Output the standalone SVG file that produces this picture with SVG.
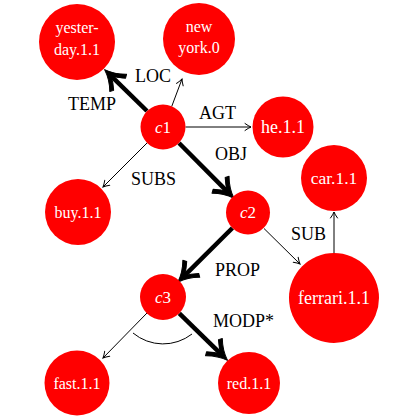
<svg xmlns="http://www.w3.org/2000/svg" width="420" height="420" viewBox="0 0 420 420">
<style>
.node{fill:#ff0000;stroke:none}
.nt{fill:#ffffff;font-family:'Liberation Serif','Times New Roman',serif;text-anchor:middle}
.it{font-style:italic}
.lbl{fill:#000;font-family:'Liberation Serif','Times New Roman',serif;font-size:18px}
.thin{stroke:#000;stroke-width:1;fill:none;marker-end:url(#thinHead)}
.thick{stroke:#000;stroke-width:4.5;fill:none;marker-end:url(#thickHead)}
</style>
<defs>
<marker id="thinHead" markerUnits="userSpaceOnUse" orient="auto" refX="0" refY="0" markerWidth="10" markerHeight="10" overflow="visible">
<path d="M-6,-3.5 Q-2.5,-1 0,0 Q-2.5,1 -6,3.5" fill="none" stroke="#000" stroke-width="1" stroke-linecap="round"/>
</marker>
<marker id="thickHead" markerUnits="userSpaceOnUse" orient="auto" refX="0" refY="0" markerWidth="20" markerHeight="20" overflow="visible">
<path d="M8,0 C2,-2 -5,-6 -11,-12 L-13,-8.5 C-7,-3 -3,-1 -1,0 C-3,1 -7,3 -13,8.5 L-11,12 C-5,6 2,2 8,0 Z" fill="#000" stroke="#000" stroke-width="1" stroke-linejoin="round"/>
</marker>
</defs>
<g id="connectors">
<line class="thick" x1="147" y1="111" x2="110.3" y2="75.2"/>
<line class="thick" x1="179" y1="143" x2="228.3" y2="192.6"/>
<line class="thick" x1="232.4" y1="228" x2="183.5" y2="276.6"/>
<line class="thick" x1="179.3" y1="313.3" x2="221.8" y2="354.8"/>
<line class="thin" x1="171.7" y1="106.5" x2="182" y2="79"/>
<line class="thin" x1="185.5" y1="127" x2="251" y2="127"/>
<line class="thin" x1="147" y1="143" x2="103" y2="187"/>
<line class="thin" x1="264" y1="228.5" x2="300" y2="264"/>
<line class="thin" x1="334" y1="253" x2="334" y2="212"/>
<line class="thin" x1="147" y1="313" x2="103" y2="358"/>
<path d="M133,333 A47,47 0 0 0 192,334" fill="none" stroke="#000" stroke-width="1"/>
<text class="lbl" x="68" y="110">TEMP</text>
<text class="lbl" x="135" y="82">LOC</text>
<text class="lbl" x="199" y="119">AGT</text>
<text class="lbl" x="215" y="160">OBJ</text>
<text class="lbl" x="131" y="185">SUBS</text>
<text class="lbl" x="291" y="240">SUB</text>
<text class="lbl" x="215" y="276">PROP</text>
<text class="lbl" x="213" y="327">MODP*</text>
</g>
<g id="yesterday">
<circle class="node" cx="77" cy="42" r="38"/>
<text class="nt" x="77" y="33" font-size="16">yester-</text>
<text class="nt" x="77" y="55" font-size="16">day.1.1</text>
</g>
<g id="newyork">
<circle class="node" cx="199" cy="39" r="36"/>
<text class="nt" x="199" y="32" font-size="16">new</text>
<text class="nt" x="199" y="53" font-size="16">york.0</text>
</g>
<g id="c1">
<circle class="node" cx="163" cy="127" r="22.5"/>
<text class="nt it" x="163" y="133" font-size="17">c<tspan font-style="normal">1</tspan></text>
</g>
<g id="he">
<circle class="node" cx="283" cy="127" r="30.5"/>
<text class="nt" x="283" y="132.5" font-size="18">he.1.1</text>
</g>
<g id="car">
<circle class="node" cx="334" cy="178" r="33"/>
<text class="nt" x="334" y="183.5" font-size="17.5">car.1.1</text>
</g>
<g id="buy">
<circle class="node" cx="78" cy="212" r="33"/>
<text class="nt" x="78" y="217.5" font-size="16">buy.1.1</text>
</g>
<g id="c2">
<circle class="node" cx="248" cy="212.5" r="22"/>
<text class="nt it" x="248" y="218" font-size="17">c<tspan font-style="normal">2</tspan></text>
</g>
<g id="ferrari">
<circle class="node" cx="334" cy="298" r="45"/>
<text class="nt" x="334" y="303.5" font-size="18">ferrari.1.1</text>
</g>
<g id="c3">
<circle class="node" cx="163" cy="297" r="23"/>
<text class="nt it" x="163" y="303" font-size="17">c<tspan font-style="normal">3</tspan></text>
</g>
<g id="fast">
<circle class="node" cx="77" cy="383" r="32.5"/>
<text class="nt" x="77" y="388.5" font-size="16">fast.1.1</text>
</g>
<g id="red">
<circle class="node" cx="249" cy="383" r="31"/>
<text class="nt" x="249" y="388.5" font-size="16">red.1.1</text>
</g>
</svg>
